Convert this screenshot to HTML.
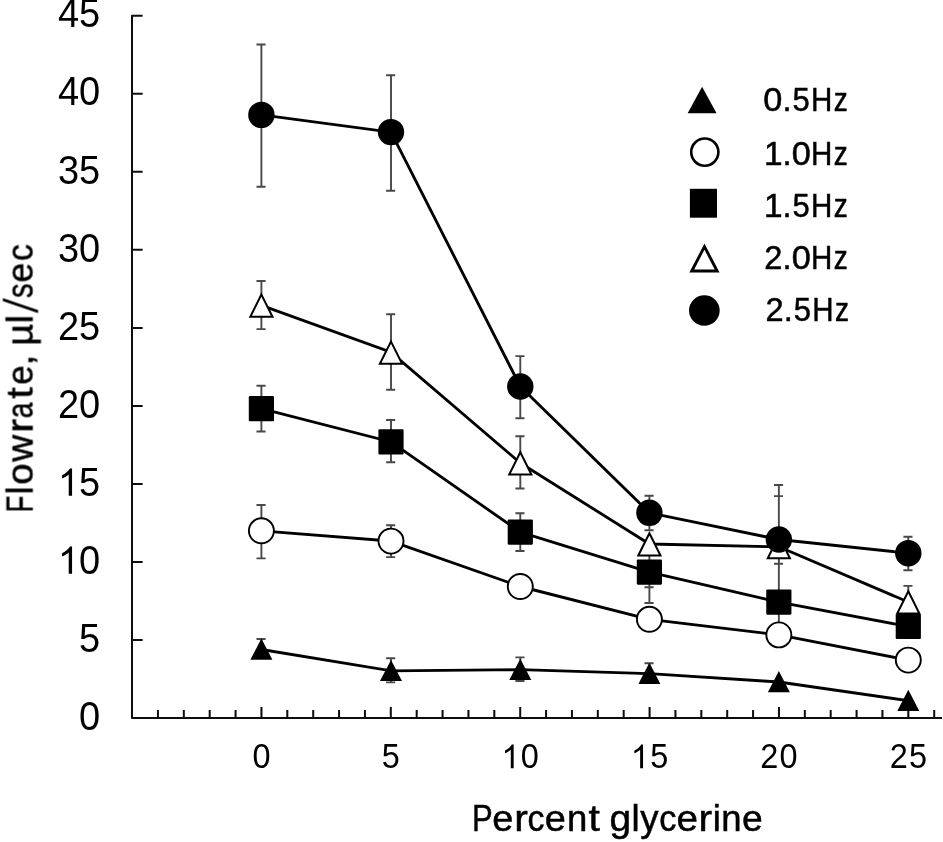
<!DOCTYPE html>
<html><head><meta charset="utf-8"><title>Flowrate vs percent glycerine</title>
<style>
html,body{margin:0;padding:0;background:#fff;}
body{width:943px;height:842px;overflow:hidden;}
svg{display:block;font-family:"Liberation Sans",sans-serif;}
</style></head><body>
<svg width="943" height="842" viewBox="0 0 943 842">
<defs><filter id="soft" x="0" y="0" width="943" height="842" filterUnits="userSpaceOnUse"><feGaussianBlur stdDeviation="0.45"/></filter></defs>
<rect width="943" height="842" fill="#fff"/>
<g filter="url(#soft)">
<g stroke="#0a0a0a" stroke-width="2" fill="none" stroke-linejoin="round">
<path d="M142.6 15.7 H132.0 V718.1 H942"/>
<path d="M132.0 640.06 h10.6M132.0 562.01 h10.6M132.0 483.97 h10.6M132.0 405.92 h10.6M132.0 327.88 h10.6M132.0 249.83 h10.6M132.0 171.79 h10.6M132.0 93.74 h10.6"/>
<path d="M157.95 718.1 v-8M183.82 718.1 v-8M209.70 718.1 v-8M235.57 718.1 v-8M261.45 718.1 v-11M287.32 718.1 v-8M313.20 718.1 v-8M339.07 718.1 v-8M364.95 718.1 v-8M390.82 718.1 v-11M416.70 718.1 v-8M442.57 718.1 v-8M468.45 718.1 v-8M494.32 718.1 v-8M520.20 718.1 v-11M546.08 718.1 v-8M571.95 718.1 v-8M597.83 718.1 v-8M623.70 718.1 v-8M649.58 718.1 v-11M675.45 718.1 v-8M701.33 718.1 v-8M727.20 718.1 v-8M753.08 718.1 v-8M778.95 718.1 v-11M804.83 718.1 v-8M830.70 718.1 v-8M856.58 718.1 v-8M882.45 718.1 v-8M908.33 718.1 v-11M934.20 718.1 v-8"/>
</g>
<g fill="#000">
<text transform="translate(79.06 729.85) scale(1.0 1.05)" font-size="38px">0</text>
<text transform="translate(79.06 651.81) scale(1.0 1.05)" font-size="38px">5</text>
<path transform="translate(57.91 573.76) scale(0.01855 -0.01855)" d="M763 0H583V1147Q518 1085 412.5 1023T223 930V1104Q374 1175 487 1276T647 1472H763Z"/>
<text transform="translate(79.06 573.76) scale(1.0 1.05)" font-size="38px">0</text>
<path transform="translate(57.91 495.72) scale(0.01855 -0.01855)" d="M763 0H583V1147Q518 1085 412.5 1023T223 930V1104Q374 1175 487 1276T647 1472H763Z"/>
<text transform="translate(79.06 495.72) scale(1.0 1.05)" font-size="38px">5</text>
<text transform="translate(57.91 417.67) scale(1.0 1.05)" font-size="38px">2</text>
<text transform="translate(79.06 417.67) scale(1.0 1.05)" font-size="38px">0</text>
<text transform="translate(57.91 339.63) scale(1.0 1.05)" font-size="38px">2</text>
<text transform="translate(79.06 339.63) scale(1.0 1.05)" font-size="38px">5</text>
<text transform="translate(57.91 261.58) scale(1.0 1.05)" font-size="38px">3</text>
<text transform="translate(79.06 261.58) scale(1.0 1.05)" font-size="38px">0</text>
<text transform="translate(57.91 183.54) scale(1.0 1.05)" font-size="38px">3</text>
<text transform="translate(79.06 183.54) scale(1.0 1.05)" font-size="38px">5</text>
<text transform="translate(57.91 105.49) scale(1.0 1.05)" font-size="38px">4</text>
<text transform="translate(79.06 105.49) scale(1.0 1.05)" font-size="38px">0</text>
<text transform="translate(57.91 27.45) scale(1.0 1.05)" font-size="38px">4</text>
<text transform="translate(79.06 27.45) scale(1.0 1.05)" font-size="38px">5</text>
<text transform="translate(252.43 768.30) scale(0.954 1.05)" font-size="34px">0</text>
<text transform="translate(381.80 768.30) scale(0.954 1.05)" font-size="34px">5</text>
<path transform="translate(501.38 768.30) scale(0.01611 -0.01611)" d="M763 0H583V1147Q518 1085 412.5 1023T223 930V1104Q374 1175 487 1276T647 1472H763Z"/>
<text transform="translate(520.83 768.30) scale(0.954 1.05)" font-size="34px">0</text>
<path transform="translate(630.75 768.30) scale(0.01611 -0.01611)" d="M763 0H583V1147Q518 1085 412.5 1023T223 930V1104Q374 1175 487 1276T647 1472H763Z"/>
<text transform="translate(650.20 768.30) scale(0.954 1.05)" font-size="34px">5</text>
<text transform="translate(760.28 768.30) scale(0.954 1.05)" font-size="34px">2</text>
<text transform="translate(779.58 768.30) scale(0.954 1.05)" font-size="34px">0</text>
<text transform="translate(889.65 768.30) scale(0.954 1.05)" font-size="34px">2</text>
<text transform="translate(908.95 768.30) scale(0.954 1.05)" font-size="34px">5</text>
</g>
<g stroke="#484848" stroke-width="1.9" fill="none">
<path d="M261.4 639.0 V650M256.5 639.0 h9.1"/>
<path d="M391.0 658.2 V682.4M386.1 658.2 h9.1M386.1 682.4 h9.1"/>
<path d="M520.3 657.4 V681.0M515.4 657.4 h9.1M515.4 681.0 h9.1"/>
<path d="M649.4 663.3 V675M644.5 663.3 h9.1"/>
<path d="M261.4 505.0 V558.4M256.5 505.0 h9.1M256.5 558.4 h9.1"/>
<path d="M391.0 525.2 V557.1M386.1 525.2 h9.1M386.1 557.1 h9.1"/>
<path d="M261.4 385.8 V431.5M256.5 385.8 h9.1M256.5 431.5 h9.1"/>
<path d="M391.0 420.0 V462.2M386.1 420.0 h9.1M386.1 462.2 h9.1"/>
<path d="M520.3 513.2 V551.0M515.4 513.2 h9.1M515.4 551.0 h9.1"/>
<path d="M649.4 545.0 V603.0M644.5 587.2 h9.1M644.5 603.0 h9.1"/>
<path d="M261.4 281.0 V329.1M256.5 281.0 h9.1M256.5 329.1 h9.1"/>
<path d="M391.0 314.2 V389.7M386.1 314.2 h9.1M386.1 389.7 h9.1"/>
<path d="M520.3 436.3 V488.5M515.4 436.3 h9.1M515.4 488.5 h9.1"/>
<path d="M778.85 485.0 V640.0M773.95 485.0 h9.1M773.95 496.1 h9.1M773.95 563.7 h9.1"/>
<path d="M908.3 585.9 V600.0M903.4 585.9 h9.1"/>
<path d="M261.4 44.5 V186.8M256.5 44.5 h9.1M256.5 186.8 h9.1"/>
<path d="M391.0 75.2 V190.7M386.1 75.2 h9.1M386.1 190.7 h9.1"/>
<path d="M520.3 356.1 V418.3M515.4 356.1 h9.1M515.4 418.3 h9.1"/>
<path d="M649.4 495.7 V530.3M644.5 495.7 h9.1M644.5 530.3 h9.1"/>
<path d="M908.3 536.7 V570.3M903.4 536.7 h9.1M903.4 570.3 h9.1"/>
</g>
<polyline points="261.4,649.5 391.0,670.8 520.3,669.7 649.4,673.7 778.85,682.0 908.3,700.7" fill="none" stroke="#000" stroke-width="2.85" stroke-linejoin="round"/>
<polygon points="261.4,638.60 272.4,659.80 250.39999999999998,659.80" fill="#000"/>
<polygon points="391.0,659.90 402.0,681.10 380.0,681.10" fill="#000"/>
<polygon points="520.3,658.80 531.3,680.00 509.29999999999995,680.00" fill="#000"/>
<polygon points="649.4,662.80 660.4,684.00 638.4,684.00" fill="#000"/>
<polygon points="778.85,671.10 789.85,692.30 767.85,692.30" fill="#000"/>
<polygon points="908.3,689.80 919.3,711.00 897.3,711.00" fill="#000"/>
<polyline points="261.4,530.8 391.0,541.1 520.3,586.5 649.4,619.3 778.85,634.9 908.3,660.1" fill="none" stroke="#000" stroke-width="2.85" stroke-linejoin="round"/>
<circle cx="261.4" cy="530.8" r="12.5" fill="#fff" stroke="#000" stroke-width="1.9"/>
<circle cx="391.0" cy="541.1" r="12.5" fill="#fff" stroke="#000" stroke-width="1.9"/>
<circle cx="520.3" cy="586.5" r="12.5" fill="#fff" stroke="#000" stroke-width="1.9"/>
<circle cx="649.4" cy="619.3" r="12.5" fill="#fff" stroke="#000" stroke-width="1.9"/>
<circle cx="778.85" cy="634.9" r="12.5" fill="#fff" stroke="#000" stroke-width="1.9"/>
<circle cx="908.3" cy="660.1" r="12.5" fill="#fff" stroke="#000" stroke-width="1.9"/>
<polyline points="261.4,408.7 391.0,441.9 520.3,532.1 649.4,572.1 778.85,602.1 908.3,626.5" fill="none" stroke="#000" stroke-width="2.85" stroke-linejoin="round"/>
<rect x="248.80" y="396.10" width="25.2" height="25.2" rx="1.1" fill="#000"/>
<rect x="378.40" y="429.30" width="25.2" height="25.2" rx="1.1" fill="#000"/>
<rect x="507.70" y="519.50" width="25.2" height="25.2" rx="1.1" fill="#000"/>
<rect x="636.80" y="559.50" width="25.2" height="25.2" rx="1.1" fill="#000"/>
<rect x="766.25" y="589.50" width="25.2" height="25.2" rx="1.1" fill="#000"/>
<rect x="895.70" y="613.90" width="25.2" height="25.2" rx="1.1" fill="#000"/>
<polyline points="261.4,305.3 391.0,352.3 520.3,463.0 649.4,544.0 778.85,546.8 908.3,602.0" fill="none" stroke="#000" stroke-width="2.85" stroke-linejoin="round"/>
<polygon points="261.4,294.60 272.5,316.80 250.29999999999998,316.80" fill="#fff" stroke="#000" stroke-width="2.0"/>
<polygon points="391.0,341.60 402.1,363.80 379.9,363.80" fill="#fff" stroke="#000" stroke-width="2.0"/>
<polygon points="520.3,452.30 531.4,474.50 509.19999999999993,474.50" fill="#fff" stroke="#000" stroke-width="2.0"/>
<polygon points="649.4,533.30 660.5,555.50 638.3,555.50" fill="#fff" stroke="#000" stroke-width="2.0"/>
<polygon points="778.85,536.10 789.95,558.30 767.75,558.30" fill="#fff" stroke="#000" stroke-width="2.0"/>
<polygon points="908.3,591.30 919.4,613.50 897.1999999999999,613.50" fill="#fff" stroke="#000" stroke-width="2.0"/>
<polyline points="261.4,114.9 391.0,132.1 520.3,386.5 649.4,512.8 778.85,539.5 908.3,553.2" fill="none" stroke="#000" stroke-width="2.85" stroke-linejoin="round"/>
<circle cx="261.4" cy="114.9" r="13.2" fill="#000"/>
<circle cx="391.0" cy="132.1" r="13.2" fill="#000"/>
<circle cx="520.3" cy="386.5" r="13.2" fill="#000"/>
<circle cx="649.4" cy="512.8" r="13.2" fill="#000"/>
<circle cx="778.85" cy="539.5" r="13.2" fill="#000"/>
<circle cx="908.3" cy="553.2" r="13.2" fill="#000"/>
<polygon points="702.1,86.7 716.55,113.3 687.65,113.3" fill="#000"/>
<circle cx="704.8" cy="152.1" r="13.6" fill="#fff" stroke="#000" stroke-width="2.6"/>
<rect x="689.9" y="188.8" width="27.1" height="28.9" fill="#000"/>
<polygon points="704.45,246.7 717.15,271.0 691.75,271.0" fill="#fff" stroke="#000" stroke-width="2.9"/>
<circle cx="704.35" cy="310.55" r="15.3" fill="#000"/>
<g font-size="32.6px" fill="#000" stroke="#000" stroke-width="0.5">
<text transform="translate(763.21 110.9) scale(1.052 1)">0</text>
<text x="782.47" y="110.9">.</text>
<text transform="translate(792.41 110.9) scale(0.951 1)">5</text>
<text transform="translate(810.93 110.9) scale(0.906 1)">H</text>
<text transform="translate(833.71 110.9) scale(0.861 1)">z</text>
<text transform="translate(764.01 165.3) scale(1.025 1)">1</text>
<text x="782.47" y="165.3">.</text>
<text transform="translate(791.71 165.3) scale(1.052 1)">0</text>
<text transform="translate(810.93 165.3) scale(0.906 1)">H</text>
<text transform="translate(833.71 165.3) scale(0.861 1)">z</text>
<text transform="translate(764.01 217.0) scale(1.025 1)">1</text>
<text x="782.47" y="217.0">.</text>
<text transform="translate(792.41 217.0) scale(0.951 1)">5</text>
<text transform="translate(810.93 217.0) scale(0.906 1)">H</text>
<text transform="translate(833.71 217.0) scale(0.861 1)">z</text>
<text x="764.13" y="269.2">2</text>
<text x="782.47" y="269.2">.</text>
<text transform="translate(791.71 269.2) scale(1.052 1)">0</text>
<text transform="translate(810.93 269.2) scale(0.906 1)">H</text>
<text transform="translate(833.71 269.2) scale(0.861 1)">z</text>
<text x="765.43" y="321.3">2</text>
<text x="783.77" y="321.3">.</text>
<text transform="translate(793.71 321.3) scale(0.951 1)">5</text>
<text transform="translate(812.23 321.3) scale(0.906 1)">H</text>
<text transform="translate(835.01 321.3) scale(0.861 1)">z</text>
</g>
<g font-size="36.5px" fill="#000" stroke="#000" stroke-width="0.5">
<text transform="translate(471.91 831.0) scale(0.849 1)">P</text>
<text transform="translate(492.24 831.0) scale(1.039 1)">e</text>
<text transform="translate(514.18 831.0) scale(1.120 1)">r</text>
<text transform="translate(527.41 831.0) scale(0.928 1)">c</text>
<text transform="translate(544.74 831.0) scale(1.039 1)">e</text>
<text x="567.04" y="831.0">n</text>
<text transform="translate(588.41 831.0) scale(1.120 1)">t</text>
<text transform="translate(609.42 831.0) scale(1.066 1)">g</text>
<text x="631.39" y="831.0">l</text>
<text x="640.16" y="831.0">y</text>
<text transform="translate(659.19 831.0) scale(0.940 1)">c</text>
<text transform="translate(676.51 831.0) scale(1.057 1)">e</text>
<text transform="translate(698.58 831.0) scale(1.120 1)">r</text>
<text x="712.65" y="831.0">i</text>
<text x="721.30" y="831.0">n</text>
<text transform="translate(741.97 831.0) scale(1.022 1)">e</text>
<g transform="translate(32.6 510.5) rotate(-90)" font-size="37.2px">
<text transform="translate(-2.00 0) scale(0.737 1)">F</text>
<text x="15.96" y="0">l</text>
<text transform="translate(25.64 0) scale(1.030 1)">o</text>
<text x="48.70" y="0">w</text>
<text transform="translate(77.83 0) scale(1.120 1)">r</text>
<text transform="translate(92.15 0) scale(0.759 1)">a</text>
<text transform="translate(111.85 0) scale(1.120 1)">t</text>
<text transform="translate(125.77 0) scale(0.934 1)">e</text>
<text x="145.13" y="0">,</text>
<text transform="translate(164.66 0) scale(1.020 1)">µ</text>
<text x="187.21" y="0">l</text>
<text transform="translate(212.54 0) scale(0.783 1)">s</text>
<text transform="translate(227.95 0) scale(0.951 1)">e</text>
<text transform="translate(249.42 0) scale(0.904 1)">c</text>
<polygon points="197.4,5.4 200.4,5.4 212.4,-29.8 209.4,-29.8" stroke="none"/>
</g></g>
</g>
</svg>
</body></html>
